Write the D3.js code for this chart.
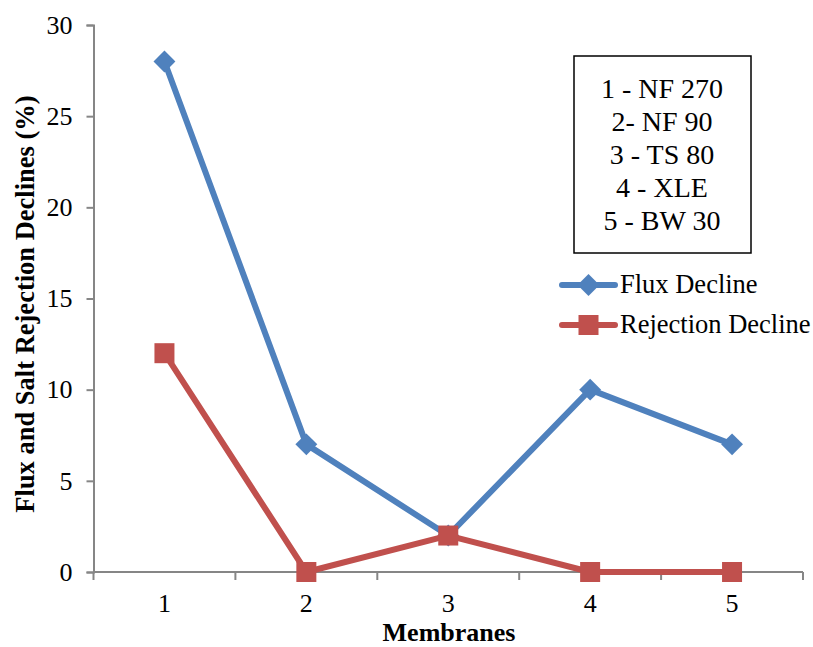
<!DOCTYPE html>
<html>
<head>
<meta charset="utf-8">
<script src="https://cdn.jsdelivr.net/npm/d3@7"></script>
<style>
	body { margin: 0; background: #fff; }
	text { font-family: "Liberation Serif", "Times New Roman", serif; fill: #000; }
</style>
</head>
<body>
<script>
let width = 813;
let height = 647;

let membranes = ["1", "2", "3", "4", "5"];
let fluxDecline = [28, 7, 2, 10, 7];
let rejectionDecline = [12, 0, 2, 0, 0];
let yTicks = [0, 5, 10, 15, 20, 25, 30];
let boxLabels = ["1 - NF 270", "2- NF 90", "3 - TS 80", "4 - XLE", "5 - BW 30"];

let blue = "#4F81BD";
let red = "#C0504D";
let axisColor = "#868686";

let svg = d3.select("body").append("svg")
	.attr("width", width)
	.attr("height", height);

let x = d3.scaleBand()
	.domain(membranes)
	.range([93.5, 803])
	.padding(0);

let y = d3.scaleLinear()
	.domain([0, 30])
	.range([572, 25]);

// y axis
let yAxis = svg.append("g")
	.attr("transform", "translate(93.5,0)")
	.call(d3.axisLeft(y).tickValues(yTicks).tickSize(7).tickPadding(14));
yAxis.selectAll("line, path").attr("stroke", axisColor).attr("stroke-width", 2);
yAxis.selectAll("text")
	.style("font-family", "'Liberation Serif', serif")
	.style("font-size", "26px");

// x axis, ticks between categories
let xAxis = svg.append("g")
	.attr("transform", "translate(0,572)");
xAxis.append("line")
	.attr("x1", x.range()[0]).attr("x2", x.range()[1])
	.attr("stroke", axisColor).attr("stroke-width", 2);
let bounds = membranes.map(d => x(d)).concat([x.range()[1]]);
xAxis.selectAll(".xtick")
	.data(bounds)
	.enter().append("line")
	.attr("x1", d => d).attr("x2", d => d)
	.attr("y1", 0).attr("y2", 8)
	.attr("stroke", axisColor).attr("stroke-width", 2);
xAxis.selectAll(".xlabel")
	.data(membranes)
	.enter().append("text")
	.attr("x", d => x(d) + x.bandwidth() / 2)
	.attr("y", 40)
	.attr("text-anchor", "middle")
	.style("font-size", "26px")
	.text(d => d);

// axis titles
svg.append("text")
	.attr("x", 449)
	.attr("y", 641)
	.attr("text-anchor", "middle")
	.style("font-weight", "bold")
	.style("font-size", "26px")
	.text("Membranes");

svg.append("text")
	.attr("transform", "translate(34,304) rotate(-90)")
	.attr("text-anchor", "middle")
	.style("font-weight", "bold")
	.style("font-size", "26.5px")
	.text("Flux and Salt Rejection Declines (%)");

let cx = d => x(d) + x.bandwidth() / 2;
let line = d3.line()
	.x((d, i) => cx(membranes[i]))
	.y(d => y(d));

let diamond = d3.symbol().type(d3.symbolSquare).size(240);

function drawSeries(values, color, marker) {
	svg.append("path")
		.datum(values)
		.attr("fill", "none")
		.attr("stroke", color)
		.attr("stroke-width", 6)
		.attr("stroke-linejoin", "round")
		.attr("d", line);

	let g = svg.append("g");
	values.forEach((v, i) => {
		marker(g, cx(membranes[i]), y(v), color);
	});
}

function drawDiamond(g, px, py, color) {
	g.append("path")
		.attr("d", diamond())
		.attr("transform", `translate(${px},${py}) rotate(45)`)
		.attr("fill", color);
}

function drawSquare(g, px, py, color) {
	g.append("rect")
		.attr("x", px - 10).attr("y", py - 10)
		.attr("width", 20).attr("height", 20)
		.attr("fill", color);
}

drawSeries(fluxDecline, blue, drawDiamond);
drawSeries(rejectionDecline, red, drawSquare);

// label box
svg.append("rect")
	.attr("x", 574).attr("y", 56)
	.attr("width", 177).attr("height", 197)
	.attr("fill", "#fff")
	.attr("stroke", "#000")
	.attr("stroke-width", 1.5);

svg.selectAll(".boxlabel")
	.data(boxLabels)
	.enter().append("text")
	.attr("x", 662)
	.attr("y", (d, i) => 98 + i * 33)
	.attr("text-anchor", "middle")
	.style("font-size", "28px")
	.text(d => d);

// legend
let legend = [
	{ name: "Flux Decline", color: blue, marker: drawDiamond, y: 285 },
	{ name: "Rejection Decline", color: red, marker: drawSquare, y: 325 }
];
legend.forEach(l => {
	svg.append("line")
		.attr("x1", 562).attr("x2", 615)
		.attr("y1", l.y).attr("y2", l.y)
		.attr("stroke", l.color)
		.attr("stroke-width", 6)
		.attr("stroke-linecap", "round");
	l.marker(svg, 588.5, l.y, l.color);
	svg.append("text")
		.attr("x", 620)
		.attr("y", l.y + 8)
		.style("font-size", "26.5px")
		.text(l.name);
});
</script>
</body>
</html>
